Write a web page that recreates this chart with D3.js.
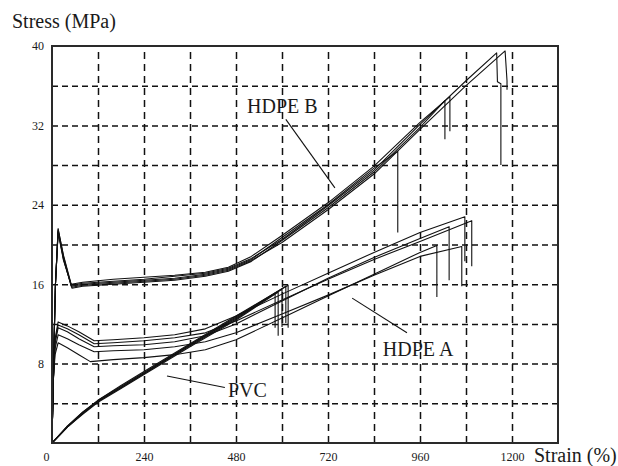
<!DOCTYPE html>
<html><head><meta charset="utf-8">
<script src="https://cdn.jsdelivr.net/npm/d3@7"></script>
<style>
html,body{margin:0;padding:0;background:#fff;}
svg{display:block;}
text{font-family:"Liberation Serif","Times New Roman",serif;fill:#1a1a1a;}
</style></head>
<body><svg id="c" width="618" height="466"></svg>
<script>
// ---- axis ticks ----
const xTickLabels = [0, 240, 480, 720, 960, 1200];
const yTickLabels = [8, 16, 24, 32, 40];
const xGrid = [120, 240, 360, 480, 600, 720, 840, 960, 1080, 1200];
const yGrid = [4, 8, 12, 16, 20, 24, 28, 32, 36];

// ---- HDPE B curves [strain %, stress MPa] ----
const hdpeB1 = [[0,0],[4,8],[9,16],[16,21.4],[30,18.6],[50,15.8],[80,16.0],[160,16.2],[240,16.4],[320,16.6],[400,17.0],[460,17.5],[520,18.5],[600,20.7],[720,24.0],[840,27.7],[902,29.4],[902,21.2]];
const hdpeB2 = [[0,0],[4,8],[9,16],[16,21.6],[30,18.8],[52,15.6],[80,15.8],[160,16.0],[240,16.2],[320,16.4],[400,16.8],[460,17.3],[520,18.3],[600,20.4],[720,23.7],[840,27.3],[960,31.8],[1025,34.5],[1025,30.6]];
const hdpeB3 = [[0,0],[4,8],[9,16],[16,21.5],[30,18.9],[50,16.0],[80,16.2],[160,16.5],[240,16.7],[320,16.9],[400,17.2],[460,17.7],[520,18.8],[600,20.9],[720,24.2],[840,27.9],[960,32.3],[1038,34.9],[1038,31.4]];
const hdpeB4 = [[0,0],[4,8],[9,16],[16,21.3],[30,18.5],[50,15.9],[80,16.1],[160,16.3],[240,16.5],[320,16.8],[400,17.1],[460,17.6],[520,18.6],[600,20.5],[720,23.9],[840,27.5],[960,32.1],[1080,36.5],[1160,39.3],[1162,36.4],[1171,36.2],[1171,28.0]];
const hdpeB5 = [[0,0],[4,8],[9,16],[16,21.2],[30,18.4],[52,15.7],[80,15.9],[160,16.1],[240,16.3],[320,16.5],[400,16.9],[460,17.4],[520,18.4],[600,20.2],[720,23.5],[840,27.1],[960,31.6],[1080,36.0],[1182,39.5],[1187,36.5],[1187,35.6]];

// ---- HDPE A curves ----
const hdpeA1 = [[0,0],[3,6],[8,10.5],[16,12.2],[40,11.8],[70,11.2],[110,10.3],[160,10.4],[240,10.6],[320,10.9],[400,11.5],[480,12.8],[600,15.0],[720,17.1],[840,19.2],[960,21.2],[1077,22.8],[1077,18.3]];
const hdpeA2 = [[0,0],[3,6],[8,10.3],[16,11.9],[40,11.5],[70,10.9],[110,10.0],[160,10.1],[240,10.3],[320,10.6],[400,11.1],[480,12.3],[600,14.4],[720,16.5],[840,18.5],[960,20.3],[1095,22.4],[1095,17.8]];
const hdpeA3 = [[0,0],[3,6],[8,10.0],[16,11.6],[40,11.2],[70,10.5],[110,9.7],[160,9.8],[240,9.9],[320,10.2],[400,10.8],[480,12.0],[600,14.3],[720,16.6],[840,18.7],[960,20.6],[1036,21.8],[1036,16.4]];
const hdpeA4 = [[0,0],[3,6],[8,9.5],[16,10.9],[40,10.5],[70,9.9],[110,9.2],[160,9.3],[240,9.4],[320,9.7],[400,10.2],[480,11.1],[600,13.0],[720,14.9],[840,16.9],[960,18.8],[1069,19.8],[1069,15.8]];
const hdpeA5 = [[0,0],[3,6],[8,8.9],[16,10.1],[40,9.6],[70,8.9],[100,8.2],[160,8.4],[240,8.6],[320,8.9],[400,9.4],[480,10.4],[600,12.6],[720,14.8],[840,17.0],[960,19.2],[1004,19.9],[1004,14.7]];

// ---- PVC curves ----
const pvc1 = [[0,0],[40,1.6],[80,3.0],[120,4.2],[180,5.6],[240,7.0],[360,9.8],[480,12.5],[582,15.1],[582,11.6]];
const pvc2 = [[0,0],[40,1.6],[80,2.9],[120,4.1],[180,5.5],[240,6.9],[360,9.7],[480,12.4],[590,15.2],[590,10.8]];
const pvc3 = [[0,0],[40,1.7],[80,3.1],[120,4.3],[180,5.7],[240,7.1],[360,9.9],[480,12.6],[600,15.5],[600,11.7]];
const pvc4 = [[0,0],[40,1.6],[80,3.0],[120,4.2],[180,5.6],[240,7.0],[360,9.9],[480,12.7],[610,15.8],[610,12.1]];
const pvc5 = [[0,0],[40,1.7],[80,3.1],[120,4.3],[180,5.8],[240,7.2],[360,10.0],[480,12.8],[616,15.9],[616,11.6]];

// ---- annotations (data coords) ----
const labels = [
  {text:"HDPE B", at:[509,33.2], leader:[[610,32.6],[738,25.7]]},
  {text:"HDPE A", at:[863,8.8], leader:[[783,14.6],[926,11.1]]},
  {text:"PVC", at:[459,4.6], leader:[[300,6.75],[451,5.6]]}
];

const curves = [hdpeB1,hdpeB2,hdpeB3,hdpeB4,hdpeB5,hdpeA1,hdpeA2,hdpeA3,hdpeA4,hdpeA5,pvc1,pvc2,pvc3,pvc4,pvc5];

const svg = d3.select("#c");
const L = 52, R = 558, T = 46, B = 443;
const x = d3.scaleLinear().domain([0,1320]).range([L,R]);
const y = d3.scaleLinear().domain([0,40]).range([B,T]);

// gridlines
const gx = svg.append("g").attr("transform",`translate(0,${B})`)
  .call(d3.axisBottom(x).tickValues(xGrid).tickSize(-(B-T)).tickFormat(""));
gx.select(".domain").remove();
gx.selectAll("line").attr("stroke","#111").attr("stroke-width",1.5).attr("stroke-dasharray","7,5");
const gy = svg.append("g").attr("transform",`translate(${L},0)`)
  .call(d3.axisLeft(y).tickValues(yGrid).tickSize(-(R-L)).tickFormat(""));
gy.select(".domain").remove();
gy.selectAll("line").attr("stroke","#111").attr("stroke-width",1.5).attr("stroke-dasharray","6,4");

// tick labels
const ax = svg.append("g").attr("transform",`translate(0,${B})`)
  .call(d3.axisBottom(x).tickValues(xTickLabels).tickSize(0).tickPadding(9).tickFormat(d3.format("d")));
ax.select(".domain").remove();
ax.selectAll("text").attr("font-size",12).attr("font-family","Liberation Serif").attr("fill","#1a1a1a")
  .attr("dx", d => d===0 ? -6 : 0);
const ay = svg.append("g").attr("transform",`translate(${L},0)`)
  .call(d3.axisLeft(y).tickValues(yTickLabels).tickSize(0).tickPadding(8).tickFormat(d3.format("d")));
ay.select(".domain").remove();
ay.selectAll("text").attr("font-size",12).attr("font-family","Liberation Serif").attr("fill","#1a1a1a");

// curves
const line = d3.line().x(d=>x(d[0])).y(d=>y(d[1]));
svg.append("g").selectAll("path").data(curves).join("path")
  .attr("d", line).attr("fill","none").attr("stroke","#111").attr("stroke-width",1.1)
  .attr("stroke-linejoin","round");

// frame
svg.append("rect").attr("x",L).attr("y",T).attr("width",R-L).attr("height",B-T)
  .attr("fill","none").attr("stroke","#2a2a2a").attr("stroke-width",2);

// annotations
const an = svg.append("g");
labels.forEach(l => {
  an.append("line").attr("x1",x(l.leader[0][0])).attr("y1",y(l.leader[0][1]))
    .attr("x2",x(l.leader[1][0])).attr("y2",y(l.leader[1][1]))
    .attr("stroke","#111").attr("stroke-width",1.1);
  an.append("text").attr("x",x(l.at[0])).attr("y",y(l.at[1])).attr("font-size",20).text(l.text);
});

// axis titles
svg.append("text").attr("x",12).attr("y",28).attr("font-size",20).text("Stress (MPa)");
svg.append("text").attr("x",534).attr("y",462).attr("font-size",20).text("Strain (%)");
</script></body></html>
